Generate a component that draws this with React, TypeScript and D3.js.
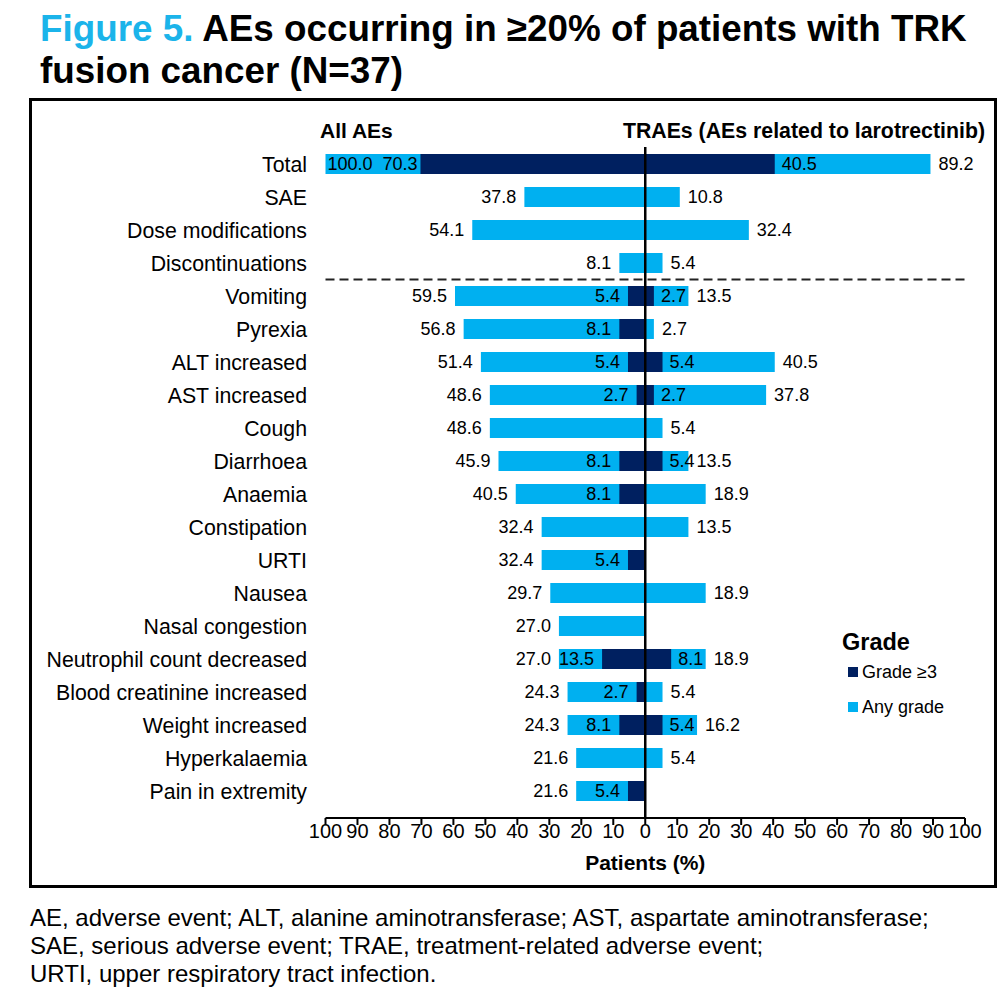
import React from "react";
import * as d3 from "d3";

const categories = [
  "Total",
  "SAE",
  "Dose modifications",
  "Discontinuations",
  "Vomiting",
  "Pyrexia",
  "ALT increased",
  "AST increased",
  "Cough",
  "Diarrhoea",
  "Anaemia",
  "Constipation",
  "URTI",
  "Nausea",
  "Nasal congestion",
  "Neutrophil count decreased",
  "Blood creatinine increased",
  "Weight increased",
  "Hyperkalaemia",
  "Pain in extremity",
];

// All AEs (left side)
const allAnyGrade: (number | null)[] = [100.0, 37.8, 54.1, 8.1, 59.5, 56.8, 51.4, 48.6, 48.6, 45.9, 40.5, 32.4, 32.4, 29.7, 27.0, 27.0, 24.3, 24.3, 21.6, 21.6];
const allGrade3: (number | null)[] = [70.3, null, null, null, 5.4, 8.1, 5.4, 2.7, null, 8.1, 8.1, null, 5.4, null, null, 13.5, 2.7, 8.1, null, 5.4];
// TRAEs (right side)
const traeAnyGrade: (number | null)[] = [89.2, 10.8, 32.4, 5.4, 13.5, 2.7, 40.5, 37.8, 5.4, 13.5, 18.9, 13.5, null, 18.9, null, 18.9, 5.4, 16.2, 5.4, null];
const traeGrade3: (number | null)[] = [40.5, null, null, null, 2.7, null, 5.4, 2.7, null, 5.4, null, null, null, null, null, 8.1, null, 5.4, null, null];

const xTicks = [-100, -90, -80, -70, -60, -50, -40, -30, -20, -10, 0, 10, 20, 30, 40, 50, 60, 70, 80, 90, 100];

const LIGHT = "#00B0F0";
const DARK = "#002060";
const TITLE_BLUE = "#1BB4EA";
const FONT = "'Liberation Sans', Arial, Helvetica, sans-serif";

export default function App() {
  const x = d3.scaleLinear().domain([-100, 100]).range([325.5, 965]);
  const y = d3.scalePoint<string>().domain(categories).range([164, 791]);
  const barH = 20;
  const zero = x(0);
  const fmt = (v: number) => v.toFixed(1);
  const sepY = (y("Discontinuations")! + y("Vomiting")!) / 2;

  return (
    <svg width={1003} height={1000} style={{ position: "absolute", left: 0, top: 0, background: "#fff" }} fontFamily={FONT}>
      <rect x={0} y={0} width={1003} height={1000} fill="#fff" />
      {/* Title */}
      <text x={40} y={41} fontSize={36.8} fontWeight="bold" fill="#000">
        <tspan fill={TITLE_BLUE}>Figure 5.</tspan> AEs occurring in ≥20% of patients with TRK
      </text>
      <text x={40} y={83} fontSize={36.8} fontWeight="bold" fill="#000">
        fusion cancer (N=37)
      </text>

      {/* Box */}
      <rect x={30.5} y={99.5} width={965} height={787} fill="none" stroke="#000" strokeWidth={3} />

      {/* Headers */}
      <text x={320} y={138} fontSize={21} fontWeight="bold">All AEs</text>
      <text x={985} y={138} fontSize={21.3} fontWeight="bold" textAnchor="end">TRAEs (AEs related to larotrectinib)</text>

      {/* Bars */}
      {categories.map((c, i) => {
        const cy = y(c)!;
        const top = cy - barH / 2;
        const la = allAnyGrade[i];
        const l3 = allGrade3[i];
        const ra = traeAnyGrade[i];
        const r3 = traeGrade3[i];
        return (
          <g key={c}>
            {la != null && <rect x={x(-la)} y={top} width={zero - x(-la)} height={barH} fill={LIGHT} />}
            {ra != null && <rect x={zero} y={top} width={x(ra) - zero} height={barH} fill={LIGHT} />}
            {l3 != null && <rect x={x(-l3)} y={top} width={zero - x(-l3)} height={barH} fill={DARK} />}
            {r3 != null && <rect x={zero} y={top} width={x(r3) - zero} height={barH} fill={DARK} />}
            {/* Category label */}
            <text x={307} y={cy} dy="0.36em" fontSize={21.3} textAnchor="end">{c}</text>
            {/* Left any-grade label */}
            {la != null && (la >= 100 ? (
              <text x={x(-la) + 2} y={cy} dy="0.36em" fontSize={18} textAnchor="start">{fmt(la)}</text>
            ) : (
              <text x={x(-la) - 8} y={cy} dy="0.36em" fontSize={18} textAnchor="end">{fmt(la)}</text>
            ))}
            {l3 != null && (
              <text x={x(-l3) - (l3 > 50 ? 3 : 8)} y={cy} dy="0.36em" fontSize={18} textAnchor="end">{fmt(l3)}</text>
            )}
            {r3 != null && (
              <text x={x(r3) + 7} y={cy} dy="0.36em" fontSize={18} textAnchor="start">{fmt(r3)}</text>
            )}
            {ra != null && (
              <text x={x(ra) + 8} y={cy} dy="0.36em" fontSize={18} textAnchor="start">{fmt(ra)}</text>
            )}
          </g>
        );
      })}

      {/* Dashed separator */}
      <line x1={x(-100)} x2={x(100)} y1={sepY} y2={sepY} stroke="#222" strokeWidth={2} strokeDasharray="9,5" />

      {/* Zero line */}
      <line x1={zero} x2={zero} y1={147} y2={818} stroke="#000" strokeWidth={2.5} />

      {/* X axis */}
      <line x1={x(-100)} x2={x(100)} y1={818} y2={818} stroke="#000" strokeWidth={2} />
      {xTicks.map((t) => (
        <g key={t}>
          <line x1={x(t)} x2={x(t)} y1={818} y2={825} stroke="#000" strokeWidth={2} />
          <text x={x(t)} y={838} fontSize={20} textAnchor="middle">{Math.abs(t)}</text>
        </g>
      ))}
      <text x={zero} y={870} fontSize={21} fontWeight="bold" textAnchor="middle">Patients (%)</text>

      {/* Legend */}
      <text x={842} y={650} fontSize={23.5} fontWeight="bold">Grade</text>
      <rect x={848} y={667} width={10} height={10} fill={DARK} />
      <text x={862} y={678} fontSize={18}>Grade ≥3</text>
      <rect x={848} y={702} width={10} height={10} fill={LIGHT} />
      <text x={862} y={713} fontSize={18}>Any grade</text>

      {/* Footnote */}
      <text x={30} y={926} fontSize={24}>AE, adverse event; ALT, alanine aminotransferase; AST, aspartate aminotransferase;</text>
      <text x={30} y={954} fontSize={24}>SAE, serious adverse event; TRAE, treatment-related adverse event;</text>
      <text x={30} y={982} fontSize={24}>URTI, upper respiratory tract infection.</text>
    </svg>
  );
}
